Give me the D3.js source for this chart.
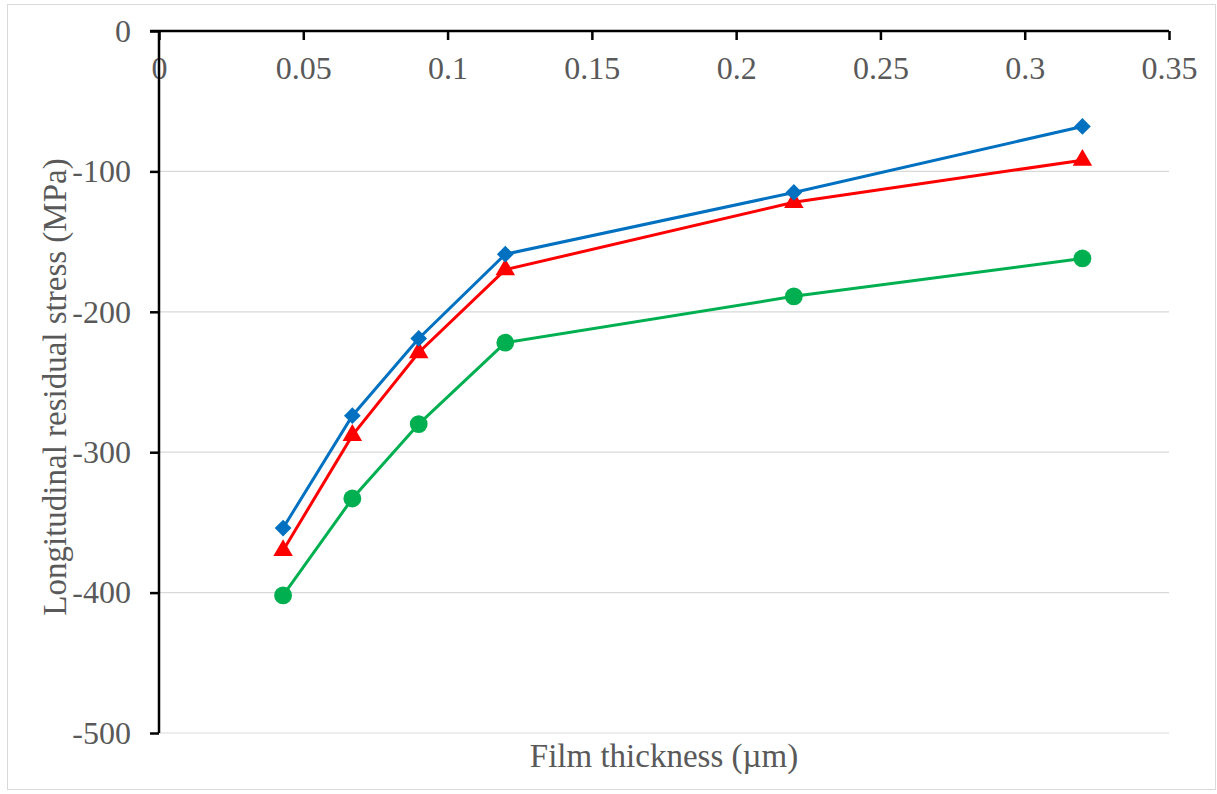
<!DOCTYPE html>
<html>
<head>
<meta charset="utf-8">
<script src="https://cdn.jsdelivr.net/npm/d3@7"></script>
<style>
  body { margin: 0; background: #fff; }
</style>
</head>
<body>
<div id="chart"></div>
<script>
var thickness = [0.043, 0.067, 0.09, 0.12, 0.22, 0.32]
var blueStress = [-354, -274, -219, -159, -115, -68]
var redStress = [-370, -288, -229, -170, -122, -92]
var greenStress = [-402, -333, -280, -222, -189, -162]
var xTicks = [0, 0.05, 0.1, 0.15, 0.2, 0.25, 0.3, 0.35]
var yTicks = [0, -100, -200, -300, -400, -500]

var fontFam = '"Liberation Serif", "Times New Roman", serif'
var w = 1217
var h = 794
var svg = d3.select('#chart').append('svg')
    .attr('width', w)
    .attr('height', h)

// outer frame
svg.append('rect')
    .attr('x', 7.5).attr('y', 4.5)
    .attr('width', 1208).attr('height', 785)
    .attr('fill', 'none')
    .attr('stroke', '#d9d9d9')

var x = d3.scaleLinear().domain([0, 0.35]).range([159, 1169])
var y = d3.scaleLinear().domain([-500, 0]).range([733, 31])

// gridlines
svg.append('g').selectAll('line')
    .data(yTicks.filter(function(d){return d !== 0}))
    .enter().append('line')
    .attr('x1', x(0)).attr('x2', x(0.35))
    .attr('y1', function(d){return y(d)}).attr('y2', function(d){return y(d)})
    .attr('stroke', '#d9d9d9')
    .attr('stroke-width', 1.2)

var xAxis = svg.append('g')
    .attr('transform', 'translate(0,' + y(0) + ')')
    .call(d3.axisBottom(x).tickValues(xTicks).tickSize(9).tickPadding(16)
      .tickFormat(function(d){return String(+d.toFixed(2))}))
xAxis.select('.domain').attr('stroke', '#000').attr('stroke-width', 2.5)
    .attr('d', 'M150,0H' + x(0.35))
xAxis.selectAll('.tick line').attr('stroke', '#000').attr('stroke-width', 2.5)

var yAxis = svg.append('g')
    .attr('transform', 'translate(' + x(0) + ',0)')
    .call(d3.axisLeft(y).tickValues(yTicks).tickSize(9).tickPadding(19)
      .tickFormat(function(d){return String(d)}))
yAxis.select('.domain').attr('stroke', '#000').attr('stroke-width', 2.5)
    .attr('d', 'M0,' + y(0) + 'V' + y(-500))
yAxis.selectAll('.tick line').attr('stroke', '#000').attr('stroke-width', 2.5)

svg.selectAll('.tick text')
    .style('font-family', fontFam)
    .style('font-size', '32px')
    .attr('fill', '#595959')
xAxis.attr('font-family', null)
yAxis.attr('font-family', null)

// axis titles
svg.append('text')
    .attr('x', 664).attr('y', 767)
    .attr('text-anchor', 'middle')
    .style('font-family', fontFam)
    .style('font-size', '33px')
    .attr('fill', '#595959')
    .text('Film thickness (µm)')

svg.append('text')
    .attr('transform', 'translate(66,387) rotate(-90)')
    .attr('text-anchor', 'middle')
    .style('font-family', fontFam)
    .style('font-size', '33px')
    .attr('fill', '#595959')
    .text('Longitudinal residual stress (MPa)')

var series = [
  { values: greenStress, color: '#00B050', shape: d3.symbolCircle, size: 250, rot: 0 },
  { values: redStress, color: '#FF0000', shape: d3.symbolTriangle, size: 165, rot: 0 },
  { values: blueStress, color: '#0070C0', shape: d3.symbolSquare, size: 140, rot: 45 }
]

var line = d3.line()
    .x(function(d){return x(d[0])})
    .y(function(d){return y(d[1])})

series.forEach(function(s){
  var pts = thickness.map(function(t, i){return [t, s.values[i]]})
  svg.append('path')
      .datum(pts)
      .attr('d', line)
      .attr('fill', 'none')
      .attr('stroke', s.color)
      .attr('stroke-width', 3)
  svg.append('g').selectAll('path')
      .data(pts)
      .enter().append('path')
      .attr('transform', function(d){return 'translate(' + x(d[0]) + ',' + y(d[1]) + ') rotate(' + s.rot + ')'})
      .attr('d', d3.symbol().type(s.shape).size(s.size))
      .attr('fill', s.color)
})
</script>
</body>
</html>
